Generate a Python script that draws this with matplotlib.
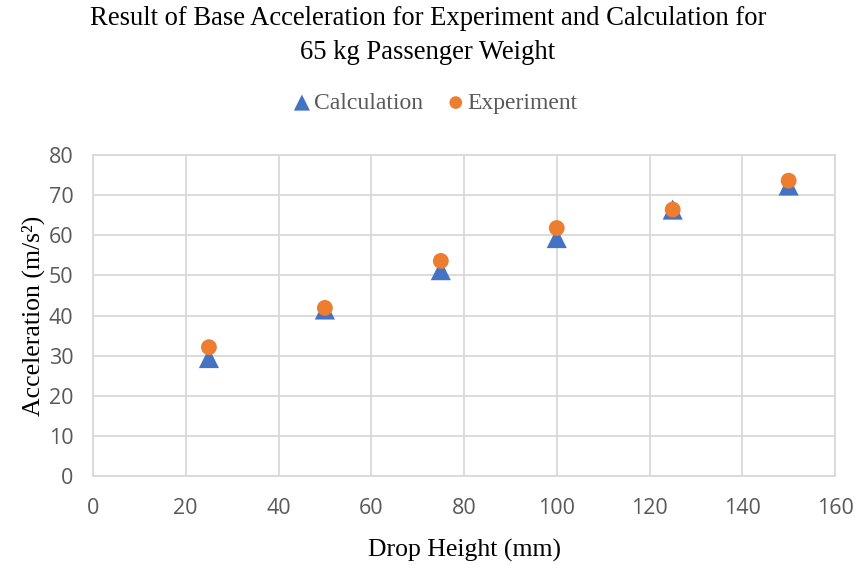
import matplotlib.pyplot as plt

# Drop height (mm) vs base acceleration (m/s^2)
drop_height = [25, 50, 75, 100, 125, 150]
calc_accel = [29.4, 41.5, 51.3, 59.3, 66.4, 72.4]
exp_accel = [32.1, 41.9, 53.6, 61.8, 66.4, 73.6]

x_ticks = [0, 20, 40, 60, 80, 100, 120, 140, 160]
y_ticks = [0, 10, 20, 30, 40, 50, 60, 70, 80]

fig = plt.figure(figsize=(8.56, 5.65), dpi=100)
ax = fig.add_axes([93 / 856, 1 - 476 / 565, (835 - 93) / 856, (476 - 155) / 565])

ax.scatter(drop_height, calc_accel, marker="^", s=210, color="#4472C4",
           edgecolors="none", label="Calculation", zorder=3)
ax.scatter(drop_height, exp_accel, marker="o", s=130, color="#ED7D31",
           edgecolors="none", label="Experiment", zorder=4)

ax.set_xlim(0, 160)
ax.set_ylim(0, 80)
ax.set_xticks(x_ticks)
ax.set_yticks(y_ticks)
ax.grid(True, color="#d9d9d9", linewidth=1.3, zorder=0)
for s in ax.spines.values():
    s.set_color("#d9d9d9")
    s.set_linewidth(1.3)
ax.tick_params(length=0, labelsize=15.5, labelcolor="#595959")
ax.tick_params(axis="x", pad=16)
ax.tick_params(axis="y", pad=14)
for lab in ax.get_xticklabels() + ax.get_yticklabels():
    lab.set_family("Open Sans")

serif = "Liberation Serif"
ax.set_xlabel("Drop Height (mm)", family=serif, fontsize=18.5, labelpad=14)
ax.set_ylabel("Acceleration (m/s²)", family=serif, fontsize=18.5, labelpad=3)

fig.text(0.5, 0.99, "Result of Base Acceleration for Experiment and Calculation for\n65 kg Passenger Weight",
         ha="center", va="top", family=serif, fontsize=19.2, linespacing=1.5)

leg = fig.legend(loc="center", bbox_to_anchor=(0.5, 1 - 103 / 565), ncol=2, frameon=False,
                 prop={"family": serif, "size": 17}, handletextpad=-0.5,
                 columnspacing=0.4, markerscale=0.8)
for t in leg.get_texts():
    t.set_color("#595959")

fig.savefig("out.png", dpi=100)
